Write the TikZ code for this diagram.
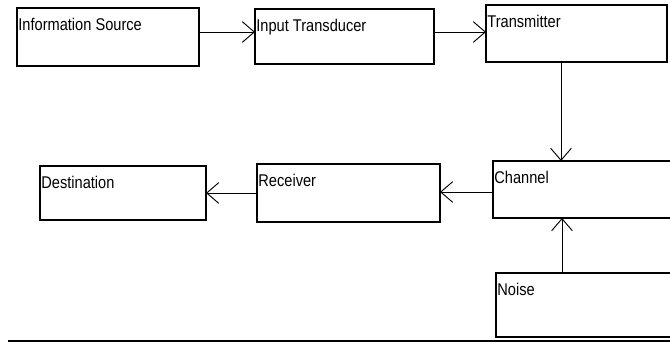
\documentclass[tikz,border=0pt]{standalone}
\usepackage{fontspec}
\usepackage{tikz}
\usetikzlibrary{positioning,calc}
\usetikzlibrary{arrows.meta}
\newfontfamily\blockfont[FakeStretch=0.86]{Liberation Sans}
\tikzstyle{link} = [line width=0.8pt,-{Straight Barb[length=0.36cm,width=0.62cm,line width=0.8pt]}]

\begin{document}
\begin{tikzpicture}[x=0.03cm,y=-0.03cm,block/.style={draw, rectangle, line width=0.9pt, inner sep=0pt, outer sep=0pt, anchor=north west, label={[anchor=north west, inner xsep=1pt, inner ysep=8.5pt, font=\blockfont\fontsize{14.5}{16}\selectfont]north west:#1}}]
		
		\useasboundingbox (0,0) rectangle (670,343);
		\clip (0,0) rectangle (670,343);
		
		% BLOCKS
		
		\node [block=Information Source, minimum width=5.46cm, minimum height=1.74cm] (info) at (17,8) {};
		\node [block=Input Transducer, minimum width=5.37cm, minimum height=1.65cm] (inp) at (255,9) {};
		\node [block=Transmitter, minimum width=5.43cm, minimum height=1.71cm] (trans) at (486,5) {};
		\node [block=Channel, minimum width=6cm, minimum height=1.71cm] (chan) at (493,161) {};
		\node [block=Receiver, minimum width=5.49cm, minimum height=1.74cm] (recv) at (257,164) {};
		\node [block=Destination, minimum width=4.98cm, minimum height=1.62cm] (dest) at (40,166) {};
		\node [block=Noise, minimum width=6cm, minimum height=1.92cm] (noise) at (496,273) {};
		
		% LINKS
		
		\draw [link] (info.east) ++(0,-5) coordinate (a) -- (a -| inp.west);
		\draw [link] (inp.east) ++(0,-4.5) coordinate (b) -- (b -| trans.west);
		\draw [link] (trans.south west) ++(75,0) coordinate (c) -- (c |- chan.north);
		\draw [link] (chan.west) ++(0,2.5) coordinate (d) -- (d -| recv.east);
		\draw [link] (recv.west) -- (recv.west -| dest.east);
		\draw [link] (noise.north west) ++(66,0) coordinate (e) -- (e |- chan.south);
		
		% base rule
		\draw [line width=0.9pt] (8,341) -- (670,341);
		
\end{tikzpicture}
\end{document}
